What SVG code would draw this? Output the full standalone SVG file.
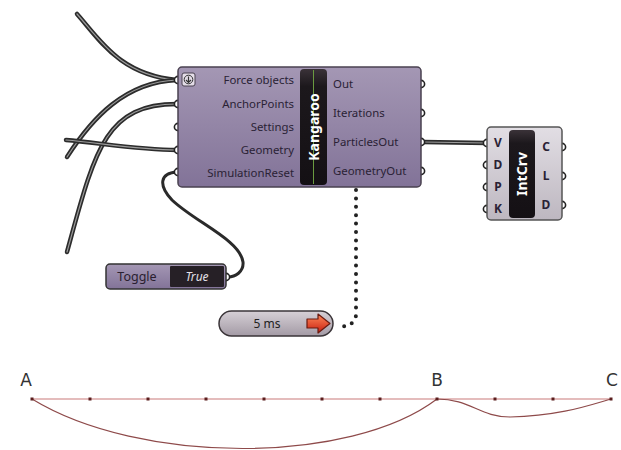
<svg xmlns="http://www.w3.org/2000/svg" width="621" height="450" viewBox="0 0 621 450">
<defs>
<linearGradient id="gPurple" x1="0" y1="0" x2="0" y2="1">
<stop offset="0" stop-color="#a497b4"/>
<stop offset="1" stop-color="#827398"/>
</linearGradient>
<linearGradient id="gGray" x1="0" y1="0" x2="0" y2="1">
<stop offset="0" stop-color="#e2dee4"/>
<stop offset="1" stop-color="#bdb7c0"/>
</linearGradient>
<linearGradient id="gBar" x1="0" y1="0" x2="0" y2="1">
<stop offset="0" stop-color="#3a3238"/>
<stop offset="0.15" stop-color="#1c181c"/>
<stop offset="1" stop-color="#141014"/>
</linearGradient>
<linearGradient id="gTimer" x1="0" y1="0" x2="0" y2="1">
<stop offset="0" stop-color="#d6d0d6"/>
<stop offset="1" stop-color="#a39aa5"/>
</linearGradient>
<linearGradient id="gArrow" x1="0" y1="0" x2="0" y2="1">
<stop offset="0" stop-color="#ff8a5a"/>
<stop offset="1" stop-color="#c81e10"/>
</linearGradient>
</defs>
<style>
.wireO{fill:none;stroke:#2c2c2c;stroke-width:4.5;stroke-linecap:round}
.wireI{fill:none;stroke:#9c9c9c;stroke-width:1.2;stroke-linecap:round}
.grip{fill:#fff;stroke:#222;stroke-width:1.6}
.lbl{font-family:"Noto Sans","Open Sans",sans-serif;font-size:11.4px;fill:#2a2235}
.lbl2{font-family:"Noto Sans","Open Sans",sans-serif;font-size:12px;font-weight:bold;fill:#2a2235}
.bar{font-family:"Noto Sans","Open Sans",sans-serif;font-size:14px;font-weight:bold;fill:#fff}
.pt{fill:#5a1e1e}
.abc{font-family:"DejaVu Sans","Liberation Sans",sans-serif;font-size:17px;fill:#333}
</style>

<g id="connectors">
<path class="wireO" d="M77,14 C100,40 120,75 177,80"/>
<path class="wireI" d="M77,14 C100,40 120,75 177,80"/>
<path class="wireO" d="M67,157 C92,118 125,82 177,80"/>
<path class="wireI" d="M67,157 C92,118 125,82 177,80"/>
<path class="wireO" d="M67,252 C95,150 105,104 177,104"/>
<path class="wireI" d="M67,252 C95,150 105,104 177,104"/>
<path class="wireO" d="M66,140 C100,143 140,150 177,150"/>
<path class="wireI" d="M66,140 C100,143 140,150 177,150"/>
<path class="wireO" d="M423,142 L487,143"/>
<path class="wireI" d="M423,142 L487,143"/>
<path fill="none" stroke="#2a2a2a" stroke-width="3" d="M177,172 C160,173 158,185 172,200 C195,222 240,240 243,262 C244,272 235,277 228,277"/>
<path fill="none" stroke="#222" stroke-width="4" stroke-linecap="round" stroke-dasharray="0 8.4" d="M356,190 L356,314 C356,322 350,326 340,327"/>
</g>

<g id="kangaroo">
<circle class="grip" cx="178" cy="80" r="3.6"/>
<circle class="grip" cx="178" cy="104" r="3.6"/>
<circle class="grip" cx="178" cy="127" r="3.6"/>
<circle class="grip" cx="178" cy="150" r="3.6"/>
<circle class="grip" cx="178" cy="172" r="3.6"/>
<circle class="grip" cx="421" cy="84" r="3.6"/>
<circle class="grip" cx="421" cy="113" r="3.6"/>
<circle class="grip" cx="421" cy="142" r="3.6"/>
<circle class="grip" cx="421" cy="171" r="3.6"/>
<rect x="178" y="67" width="243" height="120" rx="4" fill="url(#gPurple)" stroke="#4a4250" stroke-width="1.5"/>
<rect x="182" y="73" width="13" height="13" rx="2" fill="#e4dde8" stroke="#4a4250" stroke-width="1"/>
<circle cx="188.5" cy="79.5" r="4.3" fill="none" stroke="#333" stroke-width="1"/>
<path d="M188.5,76.5 L188.5,82.3 M186,80 L188.5,82.5 L191,80" fill="none" stroke="#333" stroke-width="1.2"/>
<rect x="300" y="69" width="27" height="116" rx="4" fill="url(#gBar)"/>
<line x1="313.5" y1="70" x2="313.5" y2="184" stroke="#6a9a40" stroke-width="1"/>
<text class="bar" transform="translate(319,127) rotate(-90)" text-anchor="middle" font-size="14.5">Kangaroo</text>
<text class="lbl" x="294" y="84" text-anchor="end">Force objects</text>
<text class="lbl" x="294" y="108" text-anchor="end">AnchorPoints</text>
<text class="lbl" x="294" y="131" text-anchor="end">Settings</text>
<text class="lbl" x="294" y="154" text-anchor="end">Geometry</text>
<text class="lbl" x="294" y="177" text-anchor="end">SimulationReset</text>
<text class="lbl" x="333" y="88">Out</text>
<text class="lbl" x="333" y="117">Iterations</text>
<text class="lbl" x="333" y="146">ParticlesOut</text>
<text class="lbl" x="333" y="175">GeometryOut</text>
</g>

<g id="intcrv">
<circle class="grip" cx="487" cy="143" r="3.6"/>
<circle class="grip" cx="487" cy="165" r="3.6"/>
<circle class="grip" cx="487" cy="187" r="3.6"/>
<circle class="grip" cx="487" cy="209" r="3.6"/>
<circle class="grip" cx="562" cy="147" r="3.6"/>
<circle class="grip" cx="562" cy="176" r="3.6"/>
<circle class="grip" cx="562" cy="205" r="3.6"/>
<rect x="487" y="127" width="75" height="93" rx="4" fill="url(#gGray)" stroke="#555" stroke-width="1.5"/>
<rect x="509" y="130" width="26" height="88" rx="4" fill="url(#gBar)"/>
<text class="bar" transform="translate(527,174) rotate(-90)" text-anchor="middle">IntCrv</text>
<text class="lbl2" x="498" y="147" text-anchor="middle">V</text>
<text class="lbl2" x="498" y="169" text-anchor="middle">D</text>
<text class="lbl2" x="498" y="191" text-anchor="middle">P</text>
<text class="lbl2" x="498" y="213" text-anchor="middle">K</text>
<text class="lbl2" x="546" y="151" text-anchor="middle">C</text>
<text class="lbl2" x="546" y="180" text-anchor="middle">L</text>
<text class="lbl2" x="546" y="209" text-anchor="middle">D</text>
</g>

<g id="toggle">
<circle class="grip" cx="226" cy="277" r="3.6"/>
<rect x="106" y="264" width="120" height="25" rx="4" fill="url(#gPurple)" stroke="#333" stroke-width="1.5"/>
<rect x="170" y="266" width="54" height="21" rx="1" fill="#262026"/>
<text x="137" y="281" text-anchor="middle" font-family="Noto Sans, Open Sans, sans-serif" font-size="12.5" fill="#2a2030">Toggle</text>
<text x="197" y="281" text-anchor="middle" font-family="Noto Sans, Open Sans, sans-serif" font-size="12" font-style="italic" fill="#e4e0e8">True</text>
</g>

<g id="timer">
<rect x="219" y="311" width="114" height="25" rx="12.5" fill="url(#gTimer)" stroke="#3a3438" stroke-width="1.5"/>
<text x="267" y="328" text-anchor="middle" font-family="Noto Sans, Open Sans, sans-serif" font-size="12" fill="#222">5 ms</text>
<path d="M307,319 L318,319 L318,314 L330,323.5 L318,333 L318,328 L307,328 Z" fill="url(#gArrow)" stroke="#6a1a10" stroke-width="1.2" stroke-linejoin="round"/>
</g>

<g id="curves">
<line x1="32" y1="399" x2="611" y2="399" stroke="#c97a7a" stroke-width="1.2"/>
<path d="M32,399 C140,465 350,465 437,399" fill="none" stroke="#8e4a4a" stroke-width="1.2"/>
<path d="M437,399 C470,399 480,417 510,417 C560,416 590,405 611,399" fill="none" stroke="#8e4a4a" stroke-width="1.2"/>
<rect class="pt" x="30.5" y="397.5" width="3" height="3"/>
<rect class="pt" x="88.5" y="397.5" width="3" height="3"/>
<rect class="pt" x="146.5" y="397.5" width="3" height="3"/>
<rect class="pt" x="204.5" y="397.5" width="3" height="3"/>
<rect class="pt" x="262.5" y="397.5" width="3" height="3"/>
<rect class="pt" x="320.5" y="397.5" width="3" height="3"/>
<rect class="pt" x="378.5" y="397.5" width="3" height="3"/>
<rect class="pt" x="435.5" y="397.5" width="3" height="3"/>
<rect class="pt" x="493.5" y="397.5" width="3" height="3"/>
<rect class="pt" x="551.5" y="397.5" width="3" height="3"/>
<rect class="pt" x="609.5" y="397.5" width="3" height="3"/>
<text class="abc" x="26" y="386" text-anchor="middle">A</text>
<text class="abc" x="437" y="386" text-anchor="middle">B</text>
<text class="abc" x="612" y="386" text-anchor="middle">C</text>
</g>
</svg>
